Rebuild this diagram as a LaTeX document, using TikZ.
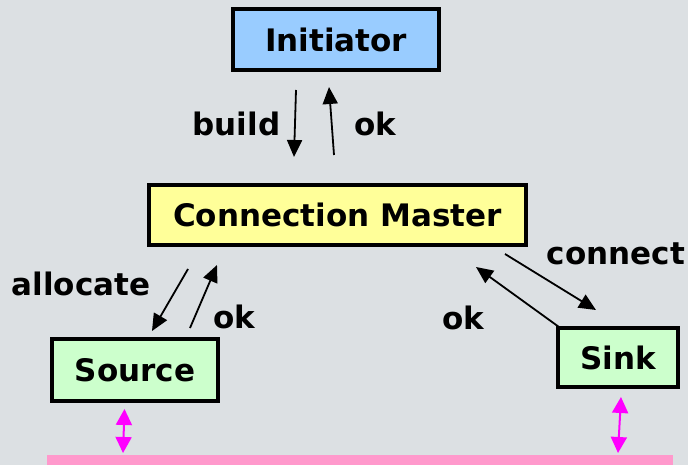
\documentclass[tikz,border=0pt]{standalone}
\usepackage{fontspec}
\setmainfont{DejaVu Sans}
\usepackage{tikz}
\usepackage{xcolor}
\usetikzlibrary{arrows.meta}
\usetikzlibrary{positioning}

\definecolor{bggrey}{HTML}{DCE0E3}
\definecolor{initblue}{HTML}{99CCFF}
\definecolor{masteryellow}{HTML}{FFFF99}
\definecolor{endgreen}{HTML}{CCFFCC}
\definecolor{buspink}{HTML}{FF99CC}
\definecolor{linkmag}{HTML}{FF00FF}

\begin{document}
\begin{tikzpicture}[x=1pt, y=-1pt,
        box/.style={draw, line width=4pt, inner sep=0pt, font=\fontsize{31}{36}\selectfont\bfseries},
        lbl/.style={inner sep=0pt, anchor=base, font=\fontsize{31}{36}\selectfont\bfseries},
        msg/.style={-{Triangle[length=17pt,width=15pt]}, line width=1.8pt},
        link/.style={{Triangle[length=16pt,width=16pt]}-{Triangle[length=16pt,width=16pt]}, line width=2pt, draw=linkmag, fill=linkmag}]
    \fill[bggrey] (0,0) rectangle (688,465);
    \useasboundingbox (0,0) rectangle (688,465);

    % boxes
    \node[box, fill=initblue, minimum width=206pt, minimum height=61pt] (init) at (336,39.5) {Initiator};
    \node[box, fill=masteryellow, minimum width=377pt, minimum height=60pt] (master) at (337.5,215) {Connection Master};
    \node[box, fill=endgreen, minimum width=166pt, minimum height=62pt] (src) at (135,370) {Source};
    \node[box, fill=endgreen, minimum width=120pt, minimum height=59pt] (sink) at (618,357.5) {Sink};
    \node[fill=buspink, inner sep=0pt, outer sep=0pt, minimum width=626pt, minimum height=20pt] (bus) at (360,465) {};

    % messages
    \draw[msg] ([shift={(-40,18)}]init.south) -- ([shift={(-43.5,-26)}]master.north);
    \draw[msg] ([shift={(-3.5,-28)}]master.north) -- ([shift={(-7,15)}]init.south);
    \draw[msg] ([shift={(-149.5,22)}]master.south) -- ([shift={(17,-6)}]src.north);
    \draw[msg] ([shift={(55,-9)}]src.north) -- ([shift={(-120.5,18)}]master.south);
    \draw[msg] ([shift={(167.5,7)}]master.south) -- ([shift={(-22,-16)}]sink.north);
    \draw[msg] ([shift={(3,1)}]sink.north west) -- ([shift={(138.5,20)}]master.south);

    % labels
    \node[lbl] (lbuild) at (236.5,136) {build};
    \node[lbl] (lok1) at (375,136) {ok};
    \node[lbl] (lalloc) at (81,295) {allocate};
    \node[lbl] (lok2) at (234,328) {ok};
    \node[lbl] (lconn) at (616,265) {connect};
    \node[lbl] (lok3) at (463,329) {ok};

    % links to the bus
    \draw[link] ([shift={(-10.5,6)}]src.south) -- ([shift={(-237,-2)}]bus.north);
    \draw[link] ([shift={(3,8)}]sink.south) -- ([shift={(258,-2)}]bus.north);
\end{tikzpicture}
\end{document}
